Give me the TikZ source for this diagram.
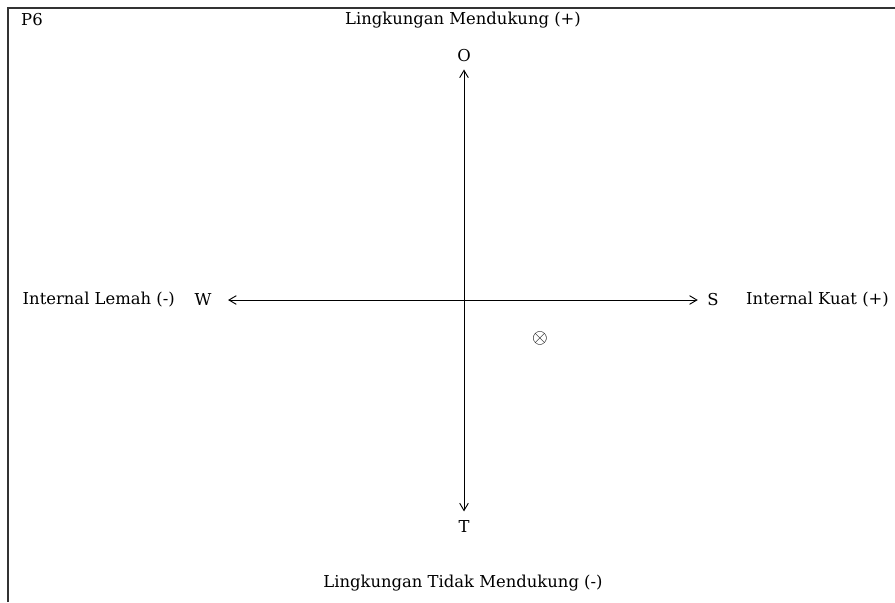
\documentclass[tikz,border=0pt]{standalone}
\usepackage{fontspec}
\setmainfont{DejaVu Serif}
\usepackage{tikz}
\usetikzlibrary{arrows.meta,positioning}

\begin{document}
\begin{tikzpicture}[
    x=0.03cm, y=-0.03cm,
    >={Straight Barb[length=2.2mm,width=2.6mm]},
    every node/.style={font=\fontsize{14}{16}\selectfont, inner sep=0pt},
    axislabel/.style={anchor=center},
    axis/.style={<->, line width=0.8pt}
]
\useasboundingbox (0,0) rectangle (895,602);

% ==========================================================
% FRAME
% ==========================================================
\draw[line width=1.4pt, black!80] (8,602) -- (8,8) -- (895,8);
\node[anchor=west] (tag) at (21,20) {P6};

% ==========================================================
% AXIS ENDS
% ==========================================================
\node[axislabel] (o) at (464,56) {O};
\node[axislabel] (t) at (464,527) {T};
\node[axislabel] (w) at (203,300) {W};
\node[axislabel] (s) at (713,300) {S};

% ==========================================================
% DESCRIPTIONS
% ==========================================================
\node (top) at (463,20) {Lingkungan Mendukung (+)};
\node (bottom) at (463,583) {Lingkungan Tidak Mendukung (-)};
\node[anchor=east] (left) at (175,300) {Internal Lemah (-)};
\node[anchor=west] (right) at (746,300) {Internal Kuat (+)};

% ==========================================================
% AXES
% ==========================================================
\draw[axis, shorten <=6pt, shorten >=8pt] (o) -- (t);
\draw[axis, shorten <=14pt, shorten >=8pt] (w) -- (s);

% position
\node[font=\fontsize{18}{20}\selectfont] (pos) at (540,338) {$\otimes$};

\end{tikzpicture}
\end{document}
